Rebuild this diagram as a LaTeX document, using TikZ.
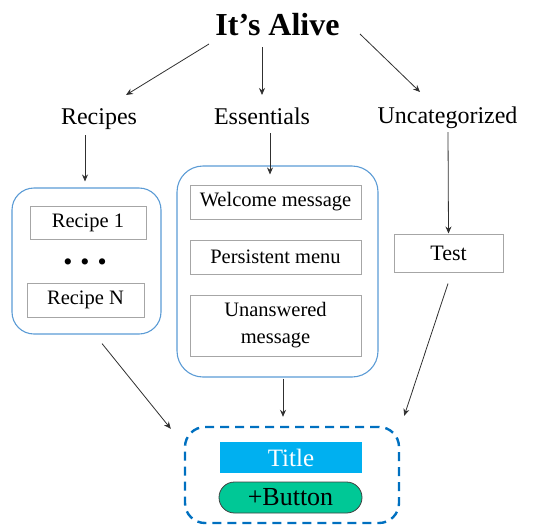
\documentclass[tikz,border=0pt]{standalone}
\usepackage{fontspec}
\setmainfont{Liberation Serif}
\usetikzlibrary{arrows.meta,calc}
\definecolor{groupblue}{HTML}{5B9BD5}
\definecolor{dashblue}{HTML}{0070C0}
\definecolor{titlecyan}{HTML}{00B0F0}
\definecolor{buttongreen}{HTML}{00C896}
\definecolor{itemgray}{HTML}{A6A6A6}
\definecolor{arrowgray}{HTML}{303030}
\tikzset{
  px/.style={x=1pt,y=-1pt},
  label24/.style={font=\fontsize{24}{28}\selectfont, inner sep=0pt, anchor=base},
  group/.style={draw=groupblue, line width=1.1pt, rounded corners=22pt},
  item/.style={draw=itemgray, line width=1pt, inner sep=0pt,
    font=\fontsize{20.5}{25}\selectfont, align=center},
  arr/.style={draw=arrowgray, line width=0.8pt, -{Stealth[length=7pt,width=6pt]}},
}
\begin{document}
\begin{tikzpicture}[px]
\useasboundingbox (0,0) rectangle (548,525);

% top level and categories
\node[font=\bfseries\fontsize{32}{36}\selectfont, inner sep=0pt] (title) at (277.5,25) {It’s Alive};
\node[label24] (recipes) at (99,124) {Recipes};
\node[label24] (essentials) at (262,124) {Essentials};
\node[label24] (uncat) at (447.5,123) {Uncategorized};

% recipes group
\node[group, minimum width=149pt, minimum height=146pt] (rbox) at (86.5,261) {};
\node[item, minimum width=116pt, minimum height=33pt] (r1) at (88,222.5) {Recipe 1};
\node[inner sep=0pt, font=\fontsize{26}{26}\selectfont] (dots) at (85,265) {•\hspace{8pt}•\hspace{8pt}•};
\node[item, minimum width=117pt, minimum height=34pt] (rn) at (85.5,300) {Recipe N};

% essentials group
\node[group, rounded corners=26pt, minimum width=201pt, minimum height=211pt] (ebox) at (277.5,271.5) {};
\node[item, minimum width=171pt, minimum height=34pt] (welcome) at (275.5,202) {Welcome message};
\node[item, minimum width=171pt, minimum height=34pt] (persist) at (275.5,257) {Persistent menu};
\node[item, minimum width=171pt, minimum height=61pt, font=\fontsize{20.5}{27}\selectfont] (unans) at (275.5,325.5) {Unanswered\\message};

% uncategorized
\node[item, minimum width=109pt, minimum height=38pt, font=\fontsize{22}{26}\selectfont] (test) at (448.5,253) {Test};

% message template
\node[draw=dashblue, line width=2.4pt, dash pattern=on 9pt off 6pt, rounded corners=20pt,
      minimum width=214pt, minimum height=96pt] (out) at (292,475) {};
\node[fill=titlecyan, text=white, inner sep=0pt, minimum width=142pt, minimum height=31pt,
      font=\fontsize{25}{28}\selectfont] (ttl) at (291,457.5) {Title};
\node[draw=black!75, fill=buttongreen, line width=0.8pt, rounded corners=15.5pt, inner sep=0pt,
      minimum width=143pt, minimum height=31pt, font=\fontsize{26}{28}\selectfont] (btn) at (290.5,497.5) {+Button};

% connectors
\draw[arr] ($(title)+(-68.5,19)$) -- ($(recipes.base)+(27,-29)$);
\draw[arr] ($(title)+(-15.5,22)$) -- ($(essentials.base)+(0,-29)$);
\draw[arr] ($(title)+(82.5,9)$) -- ($(uncat.base)+(-27.5,-31)$);
\draw[arr] ($(recipes.base)+(-14,11)$) -- ($(rbox.north)+(-1.5,-6)$);
\draw[arr] ($(essentials.base)+(8,9)$) -- ($(ebox.north)+(-7.5,9)$);
\draw[arr] ($(uncat.base)+(0.5,9)$) -- (test.north);
\draw[arr] ($(rbox.south)+(15.5,9)$) -- ($(out.north west)+(-13,3)$);
\draw[arr] ($(ebox.south)+(5.5,1)$) -- ($(out.north)+(-9,-9)$);
\draw[arr] ($(test.south)+(-0.5,11)$) -- ($(out.north east)+(4,-10)$);
\end{tikzpicture}
\end{document}
